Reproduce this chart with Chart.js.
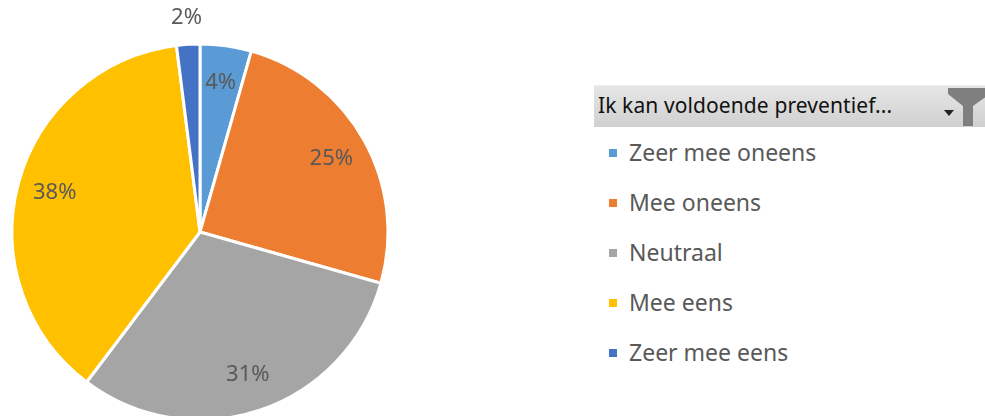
<!DOCTYPE html>
<html>
<head>
<meta charset="utf-8">
<script src="https://cdn.jsdelivr.net/npm/chart.js@4"></script>
<style>
  html, body { margin: 0; padding: 0; width: 985px; height: 416px; overflow: hidden; background: #fff; font-family: "Noto Sans", "Open Sans", sans-serif; }
  #wrap { position: absolute; left: 0; top: 0; width: 400px; height: 464px; }
  #header { position: absolute; left: 594px; top: 85px; width: 391px; height: 42px;
    background: linear-gradient(#e6e6e6, #d0d0d0); border-top: 1px solid #f0f0f0; box-sizing: border-box; overflow: hidden; }
  #header span { position: absolute; left: 4px; top: 5px; font-size: 21px; color: #111; font-family: "Noto Sans", sans-serif; letter-spacing: 0.1px; }
  #header .arrow { position: absolute; left: 350px; top: 24px; width: 0; height: 0; border-left: 5px solid transparent; border-right: 5px solid transparent; border-top: 6px solid #222; }
  #header .funnel { position: absolute; left: 354px; top: 0px; width: 42px; height: 42px; }
  #legend { position: absolute; left: 609px; top: 136px; }
  .item { position: absolute; left: 0; height: 32px; white-space: nowrap; }
  .item i { position: absolute; left: 0; top: 13px; width: 8px; height: 8px; }
  .item b { position: absolute; left: 20px; top: 0px; font-weight: normal; font-size: 23px; color: #595959; }
</style>
</head>
<body>
<div id="wrap"><canvas id="Grafico" width="400" height="464"></canvas></div>
<div id="header">
  <span>Ik kan voldoende preventief...</span>
  <svg class="funnel" viewBox="0 0 42 42"><path d="M0 2 H42 V8 L25 20 V40 H15 V20 L0 8 Z" fill="#7f7f7f"/></svg>
  <div class="arrow"></div>
</div>
<div id="legend"></div>
<script>
const categorieen = ['Zeer mee oneens', 'Mee oneens', 'Neutraal', 'Mee eens', 'Zeer mee eens'];
const waarden = [4.4, 25.0, 30.9, 37.7, 2.0];
const kleuren = ['#5B9BD5', '#ED7D31', '#A5A5A5', '#FFC000', '#4472C4'];

// legenda in html
const legend = document.getElementById('legend');
for (let i = 0; i < categorieen.length; i++) {
  const item = document.createElement('div');
  item.className = 'item';
  item.style.top = (i * 50) + 'px';
  item.innerHTML = '<i style="background:' + kleuren[i] + '"></i><b>' + categorieen[i] + '</b>';
  legend.appendChild(item);
}

const labelsPlugin = {
  id: 'percentLabels',
  afterDatasetsDraw(chart) {
    const ctx = chart.ctx;
    const arcs = chart.getDatasetMeta(0).data;
    const totaal = waarden.reduce((a, b) => a + b, 0);
    ctx.save();
    ctx.font = '22px "Noto Sans", sans-serif';
    ctx.fillStyle = '#595959';
    ctx.textAlign = 'center';
    ctx.textBaseline = 'middle';
    arcs.forEach((arc, i) => {
      const pct = waarden[i] / totaal * 100;
      const hoek = (arc.startAngle + arc.endAngle) / 2;
      const factor = pct < 3 ? 1.14 : 0.8;
      const r = arc.outerRadius * factor;
      ctx.fillText(Math.round(pct) + '%', arc.x + Math.cos(hoek) * r, arc.y + Math.sin(hoek) * r);
    });
    ctx.restore();
  }
};

new Chart(document.getElementById('Grafico'), {
  type: 'pie',
  data: {
    labels: categorieen,
    datasets: [{
      data: waarden,
      backgroundColor: kleuren,
      borderColor: '#ffffff',
      borderWidth: 3,
      radius: 188
    }]
  },
  options: {
    responsive: false,
    animation: false,
    layout: { padding: 0 },
    plugins: { legend: { display: false }, tooltip: { enabled: false } }
  },
  plugins: [labelsPlugin]
});
</script>
</body>
</html>
